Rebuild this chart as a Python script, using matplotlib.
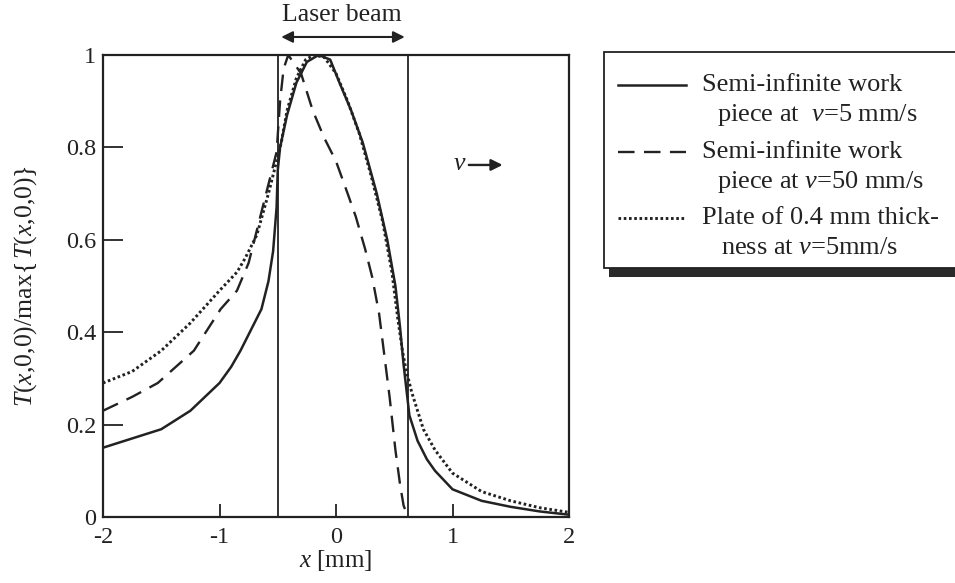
import numpy as np
import matplotlib
matplotlib.use("Agg")
import matplotlib.pyplot as plt
from matplotlib.patches import Rectangle
from matplotlib.lines import Line2D

plt.rcParams.update({
    "font.family": ["Liberation Serif", "DejaVu Serif"],
    "mathtext.fontset": "custom",
    "mathtext.rm": "Liberation Serif",
    "mathtext.it": "Liberation Serif:italic",
    "font.size": 17,
})

ink = "#222222"

# Semi-infinite work piece, v = 5 mm/s
x_slow = [-2.0, -1.75, -1.5, -1.25, -1.0, -0.9, -0.82, -0.7, -0.64, -0.58, -0.54, -0.51, -0.5,
          -0.48, -0.42, -0.34, -0.25, -0.15, -0.05, 0.03, 0.13, 0.23, 0.35, 0.44, 0.51,
          0.55, 0.58, 0.63, 0.7, 0.78, 0.85, 1.0, 1.25, 1.5, 1.75, 2.0]
y_slow = [0.15, 0.17, 0.19, 0.23, 0.29, 0.325, 0.36, 0.42, 0.45, 0.51, 0.575, 0.67, 0.75,
          0.80, 0.87, 0.94, 0.985, 1.0, 0.99, 0.94, 0.88, 0.81, 0.70, 0.60, 0.50,
          0.41, 0.33, 0.22, 0.165, 0.125, 0.10, 0.06, 0.035, 0.022, 0.012, 0.005]

# Semi-infinite work piece, v = 50 mm/s
x_fast = [-2.0, -1.75, -1.53, -1.22, -0.99, -0.85, -0.75, -0.65, -0.58, -0.51, -0.48,
          -0.45, -0.41, -0.3, -0.2, -0.1, 0.0, 0.1, 0.17, 0.25, 0.31, 0.37, 0.41, 0.46,
          0.51, 0.55, 0.58, 0.61, 0.63]
y_fast = [0.23, 0.26, 0.29, 0.36, 0.45, 0.49, 0.55, 0.65, 0.72, 0.79, 0.90,
          0.97, 1.0, 0.96, 0.88, 0.82, 0.77, 0.70, 0.65, 0.58, 0.52, 0.44, 0.36, 0.26,
          0.145, 0.07, 0.025, 0.005, 0.0]

# Plate of 0.4 mm thickness, v = 5 mm/s
x_plate = [-2.0, -1.75, -1.5, -1.25, -1.0, -0.85, -0.78, -0.68, -0.58, -0.53, -0.5,
           -0.47, -0.42, -0.34, -0.26, -0.19, -0.1, 0.0, 0.1, 0.2, 0.3, 0.4, 0.48, 0.53,
           0.57, 0.6, 0.65, 0.75, 0.85, 1.0, 1.25, 1.5, 1.75, 2.0]
y_plate = [0.29, 0.315, 0.36, 0.42, 0.49, 0.53, 0.56, 0.61, 0.70, 0.75, 0.78,
           0.81, 0.88, 0.95, 0.99, 1.0, 0.995, 0.96, 0.90, 0.83, 0.74, 0.64, 0.53, 0.43,
           0.36, 0.32, 0.27, 0.19, 0.145, 0.095, 0.055, 0.035, 0.02, 0.01]

beam_edges = [-0.5, 0.62]

x_ticks = [-2, -1, 0, 1, 2]
y_ticks = [0, 0.2, 0.4, 0.6, 0.8, 1]
y_tick_labels = ["0", "0.2", "0.4", "0.6", "0.8", "1"]

legend_lines = [
    ("Semi-infinite work", r"piece at  $v$=5 mm/s"),
    ("Semi-infinite work", r"piece at $v$=50 mm/s"),
    ("Plate of 0.4 mm thick-", r"ness at $v$=5mm/s"),
]

W, H = 955, 583
fig = plt.figure(figsize=(W / 100, H / 100), dpi=100)
ax = fig.add_axes([103 / W, 1 - 517 / H, (569 - 103) / W, (517 - 55) / H])

style_slow = dict(color=ink, lw=1.8, linestyle="-")
style_fast = dict(color=ink, lw=1.7, dashes=(7, 4))
style_plate = dict(color=ink, lw=2.1, dashes=(0.9, 0.9))

ax.plot(x_slow, y_slow, **style_slow)
ax.plot(x_fast, y_fast, **style_fast)
ax.plot(x_plate, y_plate, **style_plate)
for xb in beam_edges:
    ax.axvline(xb, color=ink, lw=1.3)

ax.set_xlim(-2, 2)
ax.set_ylim(0, 1)
ax.set_xticks(x_ticks)
ax.set_xticklabels([str(t) for t in x_ticks])
ax.set_yticks(y_ticks)
ax.set_yticklabels(y_tick_labels)
ax.tick_params(axis="x", direction="in", length=9.5, width=1.3, color=ink,
               labelsize=17.5, pad=7, labelcolor=ink)
ax.tick_params(axis="y", direction="in", length=14.5, width=1.3, color=ink,
               labelsize=17.5, pad=5, labelcolor=ink)
for sp in ax.spines.values():
    sp.set_linewidth(1.6)
    sp.set_color(ink)

ax.set_xlabel(r"$x$ [mm]", fontsize=18, color=ink, labelpad=0)
ax.set_ylabel(r"$T(x{,}0{,}0)/\mathrm{max}\{\,T(x{,}0{,}0)\}$", fontsize=18.5,
              color=ink, labelpad=19)

# laser beam arrow and label
ax.annotate("", xy=(beam_edges[1] - 0.03, 1.039), xytext=(beam_edges[0] + 0.03, 1.039),
            xycoords=("data", "axes fraction"), textcoords=("data", "axes fraction"),
            arrowprops=dict(arrowstyle="<|-|>", color=ink, lw=1.5,
                            mutation_scale=17, shrinkA=0, shrinkB=0))
ax.text(0.05, 1.087, "Laser beam", transform=ax.get_xaxis_transform(),
        ha="center", va="center", fontsize=18.5, color=ink)

# motion direction
ax.text(1.06, 0.765, r"$v$", ha="center", va="center", fontsize=18.5, color=ink)
ax.annotate("", xy=(1.43, 0.762), xytext=(1.14, 0.762),
            arrowprops=dict(arrowstyle="-|>", color=ink, lw=1.7,
                            mutation_scale=17, shrinkA=0, shrinkB=0))

# legend box drawn in figure pixel space
lax = fig.add_axes([0, 0, 1, 1], facecolor="none")
lax.set_xlim(0, W)
lax.set_ylim(H, 0)
lax.axis("off")
lax.add_patch(Rectangle((609, 268), 360, 9, facecolor="#2a2a2a", edgecolor="none"))
lax.add_patch(Rectangle((604, 52), 360, 216, facecolor="white", edgecolor=ink, lw=1.3))

row_y = [85, 152, 218]
handle_styles = [style_slow, style_fast, style_plate]
second_x = [717, 717, 721]
for (first, second), ry, st, sx in zip(legend_lines, row_y, handle_styles, second_x):
    lax.add_line(Line2D([618, 686], [ry, ry], **st))
    lax.text(702, ry, first, ha="left", va="center", fontsize=19, color=ink)
    lax.text(sx, ry + 30, second, ha="left", va="center", fontsize=19, color=ink)

fig.savefig("out.png", dpi=100)
